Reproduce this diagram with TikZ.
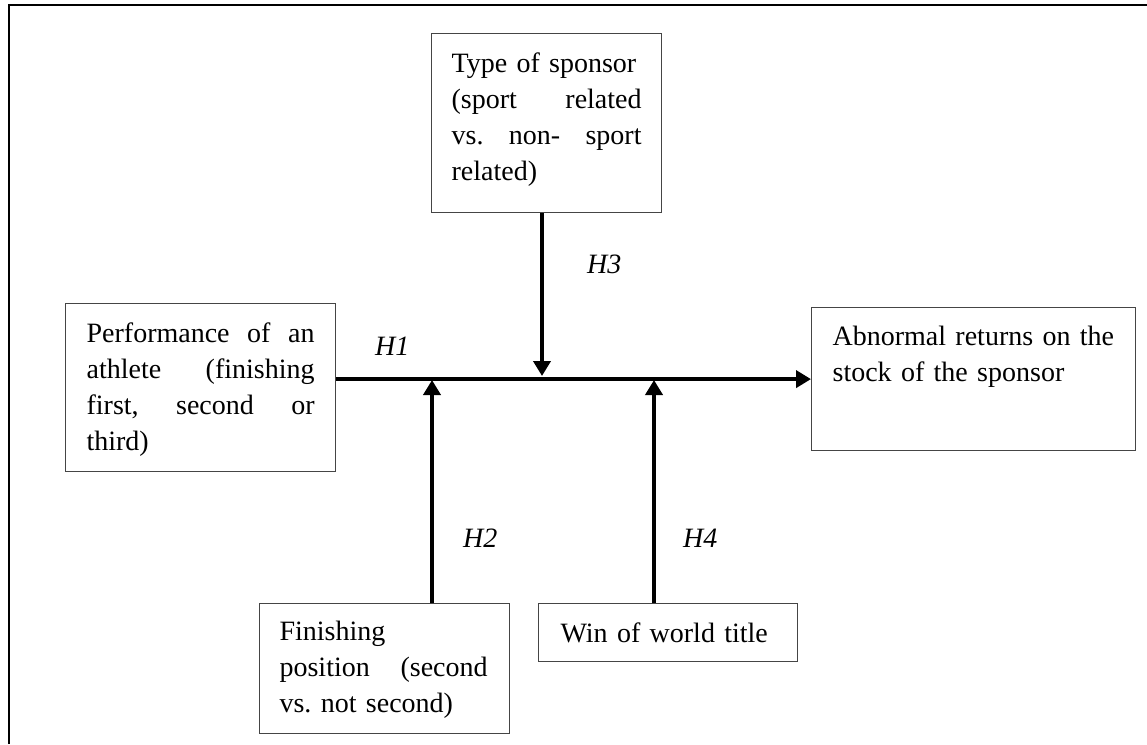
\documentclass[tikz,border=0pt]{standalone}
\usepackage{fontspec}
\setmainfont{Liberation Serif}
\usetikzlibrary{arrows.meta}
\setlength\parindent{0pt}
\frenchspacing
\newcommand\topgap[1]{\rule{0pt}{#1pt}}
\newcommand\botgap[1]{\rule[-#1pt]{0pt}{0pt}}
\newcommand\jline[2]{\leavevmode\hbox to #1pt{\spaceskip=0.25em plus 3em\relax\xspaceskip=0.25em plus 3em\relax #2}}
\definecolor{boxgray}{HTML}{454545}
\begin{document}
\begin{tikzpicture}[x=1pt,y=1pt,
  every node/.style={font=\fontsize{28pt}{36pt}\selectfont},
  box/.style={draw=boxgray, line width=1.2pt, anchor=north west, inner ysep=0pt, align=left},
  lab/.style={font=\fontsize{28pt}{36pt}\selectfont\itshape, anchor=base west, inner sep=0pt},
  conn/.style={line width=4pt, -{Triangle[length=15pt,width=17pt]}},
  frame/.style={line width=2.5pt}]
\useasboundingbox (0,0) rectangle (1147,-744);
\draw[frame] (9,-744) -- (9,-5) -- (1147,-5);

\node[box, text width=228pt, inner xsep=21pt] (perf) at (65,-303)
  {\topgap{39}\jline{228}{Performance of an}\\\jline{228}{athlete (finishing}\\\jline{228}{first, second or}\\third)\botgap{21}};
\node[box, text width=190pt, inner xsep=20pt] (type) at (431,-33)
  {\topgap{39}Type of sponsor\\\jline{190}{(sport related}\\\jline{190}{vs. non- sport}\\related)\botgap{32}};
\node[box, text width=282pt, inner xsep=21pt] (abn) at (811,-307)
  {\topgap{38}Abnormal returns on the\\stock of the sponsor\botgap{69}};
\node[box, text width=210pt, inner xsep=20pt] (fin) at (259,-603)
  {\topgap{37}Finishing\\\jline{208}{position (second}\\vs. not second)\botgap{21}};
\node[box, text width=215pt, inner xsep=22pt] (win) at (538,-603)
  {\topgap{39}Win of world title\botgap{19}};

\coordinate (j3) at (542,-376);
\coordinate (j2) at (432,-380);
\coordinate (j4) at (654,-380);

\draw[conn] (perf.east |- abn.west) -- (abn.west);
\draw[conn] (type.south -| j3) -- (j3);
\draw[conn] (fin.north -| j2) -- (j2);
\draw[conn] (win.north -| j4) -- (j4);

\node[lab] (h1) at (375,-355) {H1};
\node[lab] (h3) at (587,-273) {H3};
\node[lab] (h2) at (463,-547) {H2};
\node[lab] (h4) at (683,-547) {H4};
\end{tikzpicture}
\end{document}
